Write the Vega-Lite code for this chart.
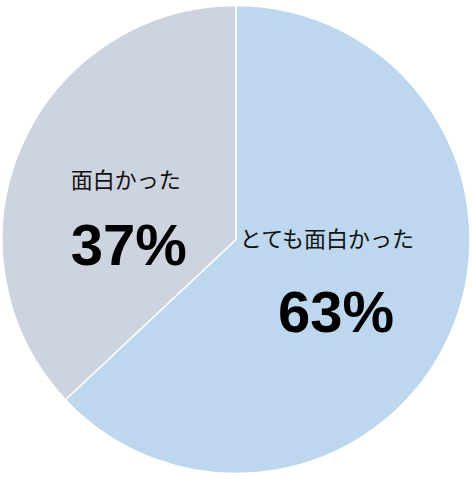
{
  "$schema": "https://vega.github.io/schema/vega-lite/v6.json",
  "width": 475,
  "height": 479,
  "autosize": {"type": "fit", "contains": "padding"},
  "padding": {"left": 0, "top": 0, "right": 3, "bottom": 0},
  "background": "white",
  "view": {"stroke": null},
  "data": {
    "values": [
      {"category": "とても面白かった", "value": 63, "pct": "63%", "order": 1},
      {"category": "面白かった", "value": 37, "pct": "37%", "order": 2}
    ]
  },
  "encoding": {
    "theta": {"field": "value", "type": "quantitative", "stack": true},
    "order": {"field": "order", "type": "quantitative"}
  },
  "layer": [
    {
      "mark": {"type": "arc", "outerRadius": 234, "stroke": "white", "strokeWidth": 1.5},
      "encoding": {
        "color": {
          "field": "category",
          "type": "nominal",
          "scale": {"domain": ["とても面白かった", "面白かった"], "range": ["#BDD7EE", "#CDD3DF"]},
          "legend": null
        }
      }
    },
    {
      "mark": {"type": "text", "radius": 98, "dx": 1, "dy": -38, "font": "Noto Sans CJK JP", "fontSize": 22, "fill": "#111111", "baseline": "middle", "align": "center"},
      "encoding": {"text": {"condition": {"test": "datum.order === 1", "field": "category"}, "value": ""}}
    },
    {
      "mark": {"type": "text", "radius": 108, "dx": 1, "dy": 33, "font": "Liberation Sans", "fontWeight": "bold", "fontSize": 58, "fill": "#000000", "baseline": "middle", "align": "center"},
      "encoding": {"text": {"condition": {"test": "datum.order === 1", "field": "pct"}, "value": ""}}
    },
    {
      "mark": {"type": "text", "radius": 120, "dx": 0, "dy": -11, "font": "Noto Sans CJK JP", "fontSize": 22, "fill": "#111111", "baseline": "middle", "align": "center"},
      "encoding": {"text": {"condition": {"test": "datum.order === 2", "field": "category"}, "value": ""}}
    },
    {
      "mark": {"type": "text", "radius": 118, "dx": 1, "dy": 55, "font": "Liberation Sans", "fontWeight": "bold", "fontSize": 58, "fill": "#000000", "baseline": "middle", "align": "center"},
      "encoding": {"text": {"condition": {"test": "datum.order === 2", "field": "pct"}, "value": ""}}
    }
  ]
}
